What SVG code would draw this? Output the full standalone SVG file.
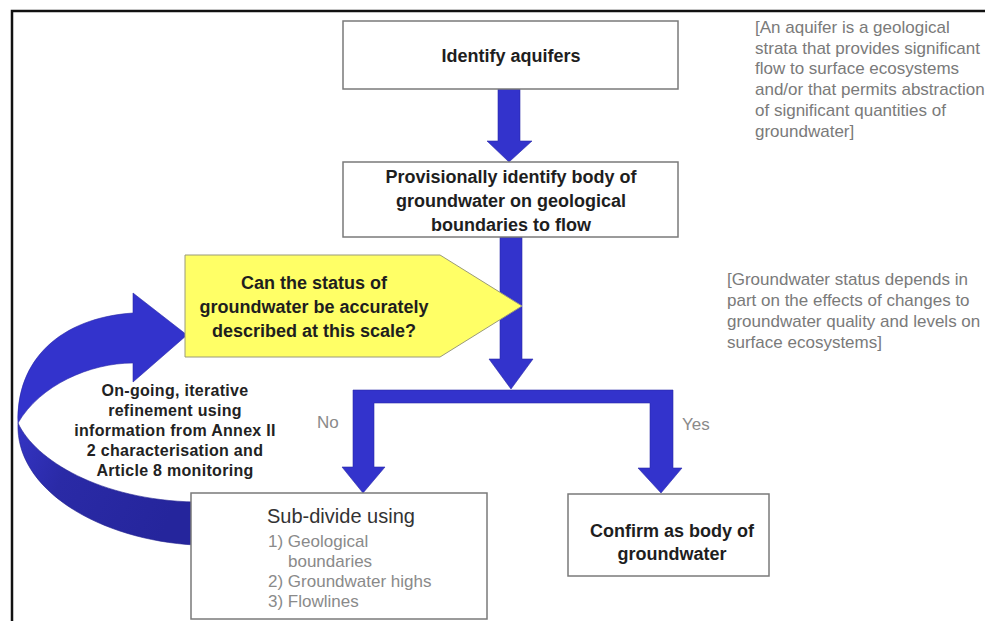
<svg xmlns="http://www.w3.org/2000/svg" width="985" height="621" viewBox="0 0 985 621">
<style>
.box{fill:#fff;stroke:#7a7a7a;stroke-width:1.5}
.blue{fill:#3333cc;stroke:#2a2aa8;stroke-width:0.6}
.bt{font-family:"Liberation Sans",Arial,sans-serif;font-weight:bold;font-size:18px;fill:#1e1e1e;text-anchor:middle}
.note{font-family:"Liberation Sans",Arial,sans-serif;font-size:17px;fill:#7a7a7a}
.lbl{font-family:"Liberation Sans",Arial,sans-serif;font-size:17px;fill:#8a8a8a}
.loop{font-family:"Liberation Sans",Arial,sans-serif;font-weight:bold;font-size:16px;fill:#222;text-anchor:middle;letter-spacing:0.3px}
</style>
<defs>
<linearGradient id="under" x1="0" y1="0" x2="1" y2="0.3">
<stop offset="0" stop-color="#3434c4"/>
<stop offset="0.35" stop-color="#2a2aa6"/>
<stop offset="1" stop-color="#25259c"/>
</linearGradient>
</defs>
<rect width="985" height="621" fill="#fff"/>
<g id="frame" fill="none" stroke="#111" stroke-width="2.5">
<path d="M12,621 L12,11 L985,11"/>
</g>
<g id="loop-arrow">
<path d="M18,423 C35,460 100,500 195,502 L195,545 C100,540 15,490 18,423 Z" fill="url(#under)" stroke="#22228f" stroke-width="0.6"/>
<path class="blue" d="M133,293 L187,335 L133,382 L133,363 C90,363 40,385 18,423 C16,360 60,318 133,313 Z"/>
</g>
<g id="connectors">
<path class="blue" d="M498,89 L520,89 L520,141 L532,141 L509,162 L487,141 L498,141 Z"/>
<path class="blue" d="M500,237 L522,237 L522,359 L533,359 L511,389 L489,359 L500,359 Z"/>
<path class="blue" d="M353,390 L673,390 L673,468 L682,468 L661,493 L638,468 L650,468 L650,403 L374,403 L374,467 L385,467 L363,493 L342,467 L353,467 Z"/>
<text class="lbl" x="317" y="428">No</text>
<text class="lbl" x="682" y="430">Yes</text>
</g>
<g id="identify-aquifers">
<rect class="box" x="343" y="21" width="335" height="68"/>
<text class="bt" x="511" y="62">Identify aquifers</text>
</g>
<g id="provisionally-identify">
<rect class="box" x="343" y="162" width="335" height="75"/>
<text class="bt" x="511" y="183">Provisionally identify body of</text>
<text class="bt" x="511" y="207">groundwater on geological</text>
<text class="bt" x="511" y="231">boundaries to flow</text>
</g>
<g id="status-question">
<path d="M185,255 L440,255 L522,306 L440,357 L185,357 Z" fill="#ffff66" stroke="#9a9a7a" stroke-width="1"/>
<text class="bt" x="314" y="289">Can the status of</text>
<text class="bt" x="314" y="313">groundwater be accurately</text>
<text class="bt" x="314" y="337">described at this scale?</text>
</g>
<g id="loop-label">
<text class="loop" x="175" y="396">On-going, iterative</text>
<text class="loop" x="175" y="416">refinement using</text>
<text class="loop" x="175" y="436">information from Annex II</text>
<text class="loop" x="175" y="456">2 characterisation and</text>
<text class="loop" x="175" y="476">Article 8 monitoring</text>
</g>
<g id="sub-divide">
<rect class="box" x="191" y="493" width="296" height="126"/>
<text x="267" y="523" font-family="Liberation Sans, Arial, sans-serif" font-size="20" fill="#333">Sub-divide using</text>
<text class="lbl" x="268" y="547">1) Geological</text>
<text class="lbl" x="288" y="567">boundaries</text>
<text class="lbl" x="268" y="587">2) Groundwater highs</text>
<text class="lbl" x="268" y="607">3) Flowlines</text>
</g>
<g id="confirm">
<rect class="box" x="568" y="494" width="201" height="82"/>
<text class="bt" x="672" y="537">Confirm as body of</text>
<text class="bt" x="672" y="560">groundwater</text>
</g>
<g id="note-aquifer">
<text class="note" x="755" y="33">[An aquifer is a geological</text>
<text class="note" x="755" y="54">strata that provides significant</text>
<text class="note" x="755" y="74">flow to surface ecosystems</text>
<text class="note" x="755" y="95">and/or that permits abstraction</text>
<text class="note" x="755" y="116">of significant quantities of</text>
<text class="note" x="755" y="137">groundwater]</text>
</g>
<g id="note-status">
<text class="note" x="727" y="285">[Groundwater status depends in</text>
<text class="note" x="727" y="306">part on the effects of changes to</text>
<text class="note" x="727" y="327">groundwater quality and levels on</text>
<text class="note" x="727" y="348">surface ecosystems]</text>
</g>
</svg>
